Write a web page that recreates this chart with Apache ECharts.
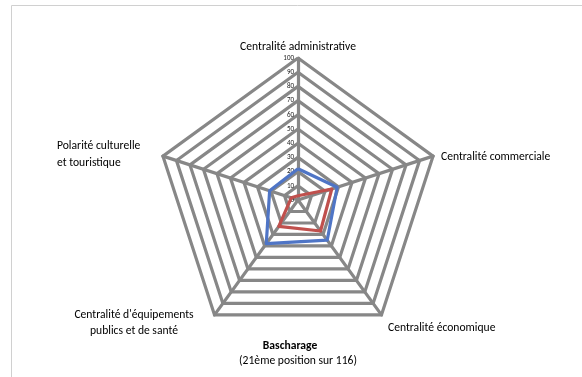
<!DOCTYPE html>
<html><head><meta charset="utf-8">
<script src="https://cdn.jsdelivr.net/npm/echarts@6/dist/echarts.min.js"></script>
<style>html,body{margin:0;padding:0;background:#fff}#c{width:582px;height:377px}</style>
</head><body><div id="c"></div>
<script>
// categories clockwise from top
const categories = ["Centralité administrative", "Centralité commerciale", "Centralité économique", "Centralité d'équipements\npublics et de santé", "Polarité culturelle\net touristique"];
const blueValues = [22, 29, 35, 38, 21];
const redValues = [3, 25, 27, 23, 5];
const tickLabels = ["0","10","20","30","40","50","60","70","80","90","100"];
const titleLines = ["Bascharage", "(21ème position sur 116)"];

const FONT = "Carlito, Lato, sans-serif";
const CX = 298, CY = 200, R = 142;
// ECharts radar lays indicators counter-clockwise; reorder
const order = [0, 4, 3, 2, 1];
const ind = order.map(i => ({ name: categories[i], max: 100, min: 0 }));
const reord = arr => order.map(i => arr[i]);

const chart = echarts.init(document.getElementById('c'), null, { renderer: 'canvas' });
const labelPos = [
  { x: 298, y: 47, align: 'center' },
  { x: 441, y: 157, align: 'left' },
  { x: 388, y: 328, align: 'left' },
  { x: 134, y: 323, align: 'center' },
  { x: 57, y: 154.5, align: 'left' }
];
const graphics = [
  { type: 'rect', shape: { x: 11.5, y: 5.5, width: 700, height: 500 }, style: { fill: 'none', stroke: '#d0d0d0', lineWidth: 1 }, silent: true }
];
categories.forEach((c, i) => {
  const p = labelPos[i];
  graphics.push({ type: 'text', x: p.x, y: p.y, style: { text: c, font: '11.6px ' + FONT, fill: '#000', align: p.align, verticalAlign: 'middle', lineHeight: 16.5 } });
});
graphics.push({ type: 'text', x: 290, y: 346, style: { text: titleLines[0], font: 'bold 11.6px ' + FONT, fill: '#000', align: 'center', verticalAlign: 'middle' } });
graphics.push({ type: 'text', x: 298, y: 361, style: { text: titleLines[1], font: '11.6px ' + FONT, fill: '#000', align: 'center', verticalAlign: 'middle' } });

chart.setOption({
  animation: false,
  radar: {
    center: [CX, CY], radius: R, startAngle: 90, splitNumber: 10, shape: 'polygon',
    indicator: ind,
    axisName: { show: false },
    axisLine: { lineStyle: { color: '#878787', width: 3.2 } },
    splitLine: { lineStyle: { color: '#878787', width: 3.2 } },
    splitArea: { show: false }
  },
  polar: { center: [CX, CY], radius: R },
  angleAxis: { show: false, startAngle: 90, type: 'value', min: 0, max: 360 },
  radiusAxis: {
    type: 'value', min: 0, max: 100, interval: 10,
    axisLine: { show: false }, axisTick: { show: false }, splitLine: { show: false },
    axisLabel: { fontSize: 7, color: '#222', fontFamily: FONT, margin: 4,
      formatter: v => tickLabels[Math.round(v / 10)] }
  },
  graphic: graphics,
  series: [{
    type: 'radar', symbol: 'none',
    data: [
      { value: reord(blueValues), lineStyle: { color: '#4f75c6', width: 3.2 } },
      { value: reord(redValues), lineStyle: { color: '#c0504d', width: 3.2 } }
    ]
  }]
});
</script></body></html>
